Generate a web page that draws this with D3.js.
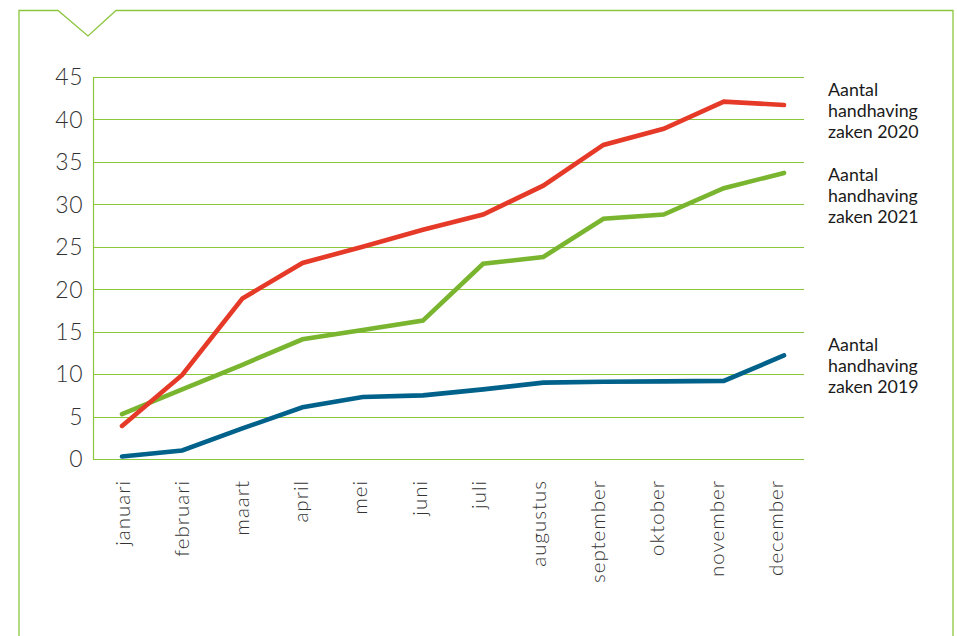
<!DOCTYPE html>
<html>
<head>
<meta charset="utf-8">
<script src="https://cdnjs.cloudflare.com/ajax/libs/d3/7.8.5/d3.min.js"></script>
<style>
  html, body { margin: 0; padding: 0; background: #ffffff; }
  svg { display: block; }
</style>
</head>
<body>
<svg id="chart" width="957" height="636"></svg>
<script>
// ---- data ----
const months = ["januari","februari","maart","april","mei","juni","juli","augustus","september","oktober","november","december"];
const yTicks = [0, 5, 10, 15, 20, 25, 30, 35, 40, 45];
const values2019 = [0.3, 1.0, 3.6, 6.1, 7.3, 7.5, 8.2, 9.0, 9.1, 9.15, 9.2, 12.2];
const values2020 = [3.9, 9.9, 18.9, 23.1, 25.0, 27.0, 28.8, 32.2, 37.0, 38.9, 42.1, 41.7];
const values2021 = [5.3, 8.2, 11.1, 14.1, 15.2, 16.3, 23.0, 23.8, 28.3, 28.8, 31.9, 33.7];
const seriesNames = ["Aantal handhaving zaken 2020", "Aantal handhaving zaken 2021", "Aantal handhaving zaken 2019"];

// ---- layout ----
const svg = d3.select("#chart");
const plotLeft = 93, plotRight = 804, plotTop = 77, plotBottom = 459;
const GREEN = "#8cc63f";

// frame with notch
const frame = d3.path();
frame.moveTo(19, 640);
frame.lineTo(19, 10.5);
frame.lineTo(58, 10.5);
frame.lineTo(88, 36);
frame.lineTo(116, 10.5);
frame.lineTo(953, 10.5);
frame.lineTo(953, 640);
svg.append("path").attr("d", frame.toString())
  .attr("fill", "none").attr("stroke", GREEN).attr("stroke-width", 1.3);

const y = d3.scaleLinear().domain([0, 45]).range([plotBottom, plotTop]);
const x = d3.scalePoint().domain(months).range([122, 784]);
const xLab = d3.scalePoint().domain(months).range([130, 783]);

// gridlines
svg.append("g").selectAll("line").data(yTicks).join("line")
  .attr("x1", plotLeft).attr("x2", plotRight)
  .attr("y1", d => Math.round(y(d)) + 0.5).attr("y2", d => Math.round(y(d)) + 0.5)
  .attr("stroke", GREEN).attr("stroke-width", 1.2);
// y axis line
svg.append("line").attr("x1", plotLeft + 0.5).attr("x2", plotLeft + 0.5)
  .attr("y1", y(45)).attr("y2", y(0) + 1)
  .attr("stroke", GREEN).attr("stroke-width", 1.2);

// y tick labels
svg.append("g").selectAll("text").data(yTicks).join("text")
  .attr("x", 83).attr("y", d => y(d))
  .attr("dy", "0.36em")
  .attr("text-anchor", "end")
  .attr("font-family", "Lato, 'Open Sans', sans-serif")
  .attr("font-weight", 300)
  .attr("font-size", 23)
  .attr("letter-spacing", 0.5)
  .attr("fill", "#333")
  .text(d => d);

// x labels (rotated)
svg.append("g").selectAll("text").data(months).join("text")
  .attr("transform", d => `translate(${xLab(d)},480) rotate(-90)`)
  .attr("text-anchor", "end")
  .attr("font-family", "Lato, 'Open Sans', sans-serif")
  .attr("font-weight", 300)
  .attr("font-size", 20.5)
  .attr("letter-spacing", 1)
  .attr("fill", "#333")
  .text(d => d);

// lines
const line = d3.line().x((d, i) => x(months[i])).y(d => y(d));
const series = [
  {vals: values2021, color: "#79b52f"},
  {vals: values2019, color: "#00628b"},
  {vals: values2020, color: "#e63a29"}
];
svg.append("g").selectAll("path").data(series).join("path")
  .attr("d", d => line(d.vals))
  .attr("fill", "none")
  .attr("stroke", d => d.color)
  .attr("stroke-width", 4.6)
  .attr("stroke-linecap", "round")
  .attr("stroke-linejoin", "miter");

// legend labels
const legendBaselines = [95.5, 180.5, 350.5];
seriesNames.forEach((name, i) => {
  const words = ["Aantal", "handhaving", name.replace("Aantal handhaving ", "")];
  const t = svg.append("text")
    .attr("x", 828).attr("y", legendBaselines[i])
    .attr("font-family", "Lato, sans-serif")
    .attr("font-size", 17.8)
    .attr("fill", "#1a1a1a");
  words.forEach((w, j) => {
    t.append("tspan").attr("x", 828).attr("dy", j === 0 ? 0 : 21).text(w);
  });
});
</script>
</body>
</html>
